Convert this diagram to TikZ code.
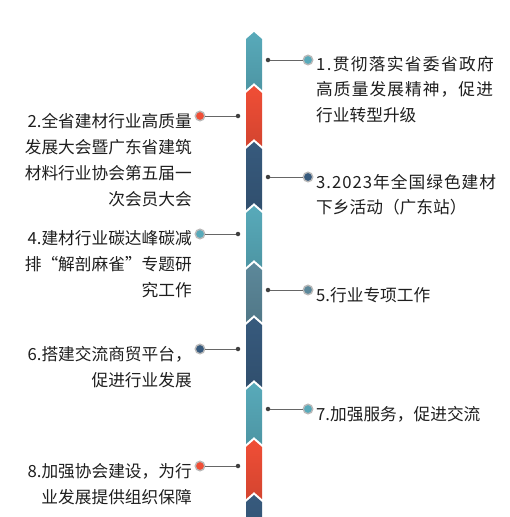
\documentclass[tikz,border=0pt]{standalone}
\usepackage{fontspec}
\newfontfamily\cjk{Noto Sans CJK SC}
\definecolor{tealc}{RGB}{88,170,186}
\definecolor{redc}{RGB}{240,78,54}
\definecolor{navyc}{RGB}{55,90,125}
\definecolor{slatec}{RGB}{92,136,154}
\definecolor{ink}{RGB}{30,30,30}
\newcommand\spreadtxt[2]{{\addfontfeatures{LetterSpace=#1}#2}}
\tikzset{
  ring/.style={circle,inner sep=0pt,minimum size=9.5pt,draw=gray!55,line width=1.4pt,fill=#1},
  pin/.style={circle,inner sep=0pt,minimum size=4.5pt,fill=black!75},
  link/.style={draw=black!60,line width=0.9pt},
  item/.style={inner sep=0pt,text=ink,font=\fontsize{16.7}{25.8}\cjk},
}
\begin{document}
\begin{tikzpicture}[x=1pt,y=-1pt]
  \useasboundingbox (0,0) rectangle (509,517);
  \clip (0,0) rectangle (509,517);
  % spine of chevrons
  \foreach \t/\n/\c in {32/86/tealc,86/142/redc,142/206/navyc,206/263/tealc,
      263/318/slatec,318/383/navyc,383/440/tealc,440/495/redc,495/560/navyc}{
    \shade[top color=\c,middle color=\c,bottom color=\c!88!black]
      (246,\t+7) -- (254,\t) -- (262,\t+7) -- (262,\n+4) -- (254,\n-3) -- (246,\n+4) -- cycle;
  }
  % right side (anchor = baseline of last line)
  \node[pin] (d1) at (268,60) {};
  \node[ring=tealc] (c1) at (308,60) {};
  \draw[link] (d1) -- (c1);
  \node[item,anchor=base west,align=left] (t1) at (316,121.6)
    {\spreadtxt{8}{1.贯彻落实省委省政府}\\\spreadtxt{6.5}{高质量发展精神，促进}\\行业转型升级};
  \node[pin] (d3) at (268,177) {};
  \node[ring=navyc] (c3) at (308,177) {};
  \draw[link] (d3) -- (c3);
  \node[item,anchor=base west,align=left] (t3) at (316,213.8)
    {\spreadtxt{6}{3.2023年全国绿色建材}\\下乡活动（广东站）};
  \node[pin] (d5) at (268,290) {};
  \node[ring=slatec] (c5) at (308,290) {};
  \draw[link] (d5) -- (c5);
  \node[item,anchor=base west,align=left] (t5) at (316,301) {5.行业专项工作};
  \node[pin] (d7) at (268,409) {};
  \node[ring=tealc] (c7) at (308,409) {};
  \draw[link] (d7) -- (c7);
  \node[item,anchor=base west,align=left] (t7) at (316,420) {7.加强服务，促进交流};
  % left side
  \node[pin] (d2) at (238,116) {};
  \node[ring=redc] (c2) at (200,116) {};
  \draw[link] (c2) -- (d2);
  \node[item,anchor=base east,align=right] (t2) at (192,205)
    {2.全省建材行业高质量\\发展大会暨广东省建筑\\材料行业协会第五届一\\次会员大会};
  \node[pin] (d4) at (238,234) {};
  \node[ring=tealc] (c4) at (200,234) {};
  \draw[link] (c4) -- (d4);
  \node[item,anchor=base east,align=right] (t4) at (192,296)
    {4.建材行业碳达峰碳减\\排{\addfontfeatures{CharacterWidth=Full}“}解剖麻雀{\addfontfeatures{CharacterWidth=Full}”}专题研\\究工作};
  \node[pin] (d6) at (238,349) {};
  \node[ring=navyc] (c6) at (200,349) {};
  \draw[link] (c6) -- (d6);
  \node[item,anchor=base east,align=right] (t6) at (192,386)
    {6.搭建交流商贸平台，\\促进行业发展};
  \node[pin] (d8) at (238,466) {};
  \node[ring=redc] (c8) at (200,466) {};
  \draw[link] (c8) -- (d8);
  \node[item,anchor=base east,align=right] (t8) at (192,503)
    {8.加强协会建设，为行\\业发展提供组织保障};
\end{tikzpicture}
\end{document}
